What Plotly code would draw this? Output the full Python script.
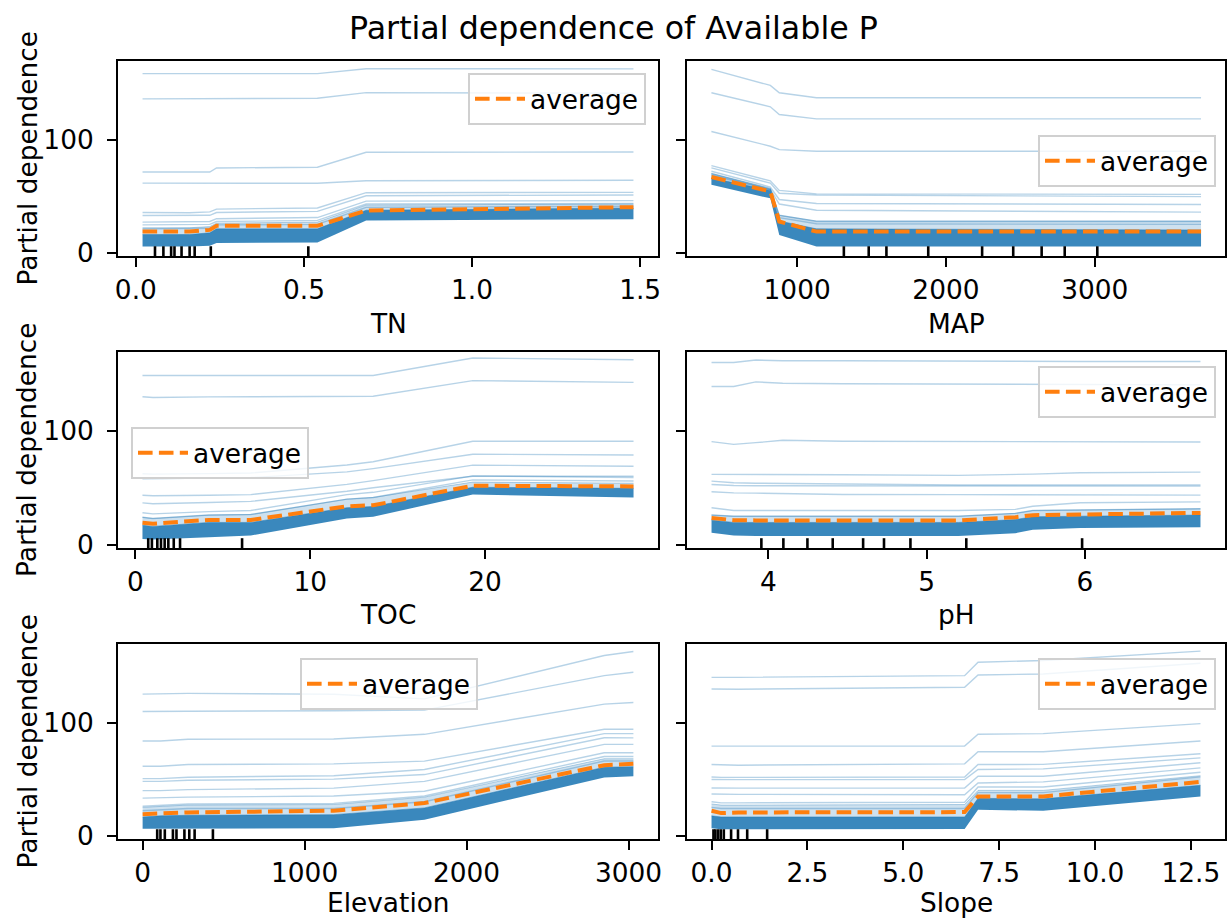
import plotly.graph_objects as go

W, H = 1227, 920
BLUE_LINE = "rgba(31,119,180,0.32)"
BAND = "rgba(31,119,180,0.88)"
HAZE = "rgba(31,119,180,0.22)"
ORANGE = "#ff7f0e"
FONT = "DejaVu Sans"

title_text = "Partial dependence of Available P"
features = ["TN", "MAP", "TOC", "pH", "Elevation", "Slope"]

# ---------------- TN ----------------
tn_grid = [0.02, 0.16, 0.22, 0.24, 0.54, 0.685, 1.48]
tn_ice = [
    [158.3, 158.3, 158.3, 158.3, 158.3, 162.7, 162.5],
    [136.0, 136.0, 136.0, 136.0, 136.5, 141.5, 141.0],
    [71.3, 71.0, 71.3, 74.9, 75.5, 88.8, 89.0],
    [61.5, 61.5, 61.5, 61.3, 61.3, 63.6, 64.0],
    [35.5, 35.3, 36.0, 38.5, 39.5, 53.0, 53.3],
    [32.8, 32.5, 33.0, 35.5, 36.5, 50.3, 51.0],
    [27.0, 27.0, 27.5, 30.0, 31.0, 45.5, 46.0],
    [24.5, 24.5, 25.0, 27.5, 28.5, 43.0, 43.5],
    [21.0, 21.0, 21.5, 24.5, 25.0, 40.0, 41.0],
]
tn_lo = [5.3, 5.3, 6.0, 8.5, 9.0, 28.5, 29.5]
tn_hi = [16.0, 16.0, 17.5, 21.0, 21.0, 37.5, 39.5]
tn_haze = [22.0, 22.0, 23.0, 26.0, 27.0, 42.0, 43.0]
tn_avg = [18.6, 18.6, 20.1, 23.7, 23.7, 37.2, 40.2]
tn_deciles = [0.057, 0.082, 0.105, 0.115, 0.136, 0.16, 0.175, 0.223, 0.513]
tn_ticks = [0.0, 0.5, 1.0, 1.5]
tn_ticktext = ["0.0", "0.5", "1.0", "1.5"]

# ---------------- MAP ----------------
map_grid = [424, 820, 880, 1130, 3714]
map_ice = [
    [162.1, 147.9, 141.4, 137.0, 137.0],
    [141.4, 129.0, 122.2, 118.3, 118.3],
    [107.1, 94.1, 91.1, 89.6, 89.6],
    [77.0, 63.5, 55.0, 52.0, 51.5],
    [75.0, 61.5, 52.5, 51.0, 49.5],
    [72.0, 58.0, 47.0, 43.5, 42.6],
    [70.0, 56.0, 43.0, 37.5, 35.8],
    [69.0, 56.0, 33.0, 27.5, 27.5],
    [68.0, 55.5, 31.0, 25.5, 25.0],
]
map_lo = [60.0, 48.0, 15.5, 5.3, 5.3]
map_hi = [66.0, 55.0, 28.0, 21.0, 20.0]
map_haze = [70.0, 57.0, 33.0, 28.0, 28.0]
map_avg = [66.9, 54.1, 27.5, 18.6, 18.6]
map_deciles = [1314, 1481, 1600, 1881, 2243, 2452, 2643, 2798, 3017]
map_ticks = [1000, 2000, 3000]
map_ticktext = ["1000", "2000", "3000"]

# ---------------- TOC ----------------
toc_grid = [0.4, 1.0, 4.2, 6.6, 12.1, 13.6, 19.3, 28.5]
toc_ice = [
    [148.8, 148.8, 148.8, 148.8, 148.8, 148.8, 164.2, 162.7],
    [130.1, 129.5, 130.0, 130.0, 130.0, 130.5, 144.3, 142.8],
    [62.3, 62.0, 62.5, 63.0, 70.0, 72.9, 91.0, 91.0],
    [58.0, 58.0, 58.5, 59.0, 64.0, 66.9, 79.5, 78.9],
    [43.4, 43.0, 43.4, 44.0, 53.0, 56.3, 69.9, 69.0],
    [36.7, 36.0, 37.0, 38.0, 47.0, 50.0, 60.2, 60.2],
    [28.0, 27.0, 29.0, 30.0, 44.0, 46.0, 60.5, 59.0],
    [24.0, 23.0, 26.0, 26.5, 40.0, 41.5, 57.0, 56.0],
]
toc_lo = [5.0, 4.5, 6.5, 8.0, 23.0, 24.5, 44.0, 41.5]
toc_hi = [17.0, 16.0, 19.5, 19.5, 32.5, 33.5, 50.5, 49.5]
toc_haze = [24.0, 23.0, 26.0, 26.5, 40.0, 41.5, 55.0, 54.0]
toc_avg = [19.3, 18.4, 21.7, 21.7, 33.7, 34.6, 51.8, 51.2]
toc_deciles = [0.73, 0.94, 1.25, 1.46, 1.67, 1.88, 2.19, 2.55, 6.1]
toc_ticks = [0, 10, 20]
toc_ticktext = ["0", "10", "20"]

# ---------------- pH ----------------
ph_grid = [3.64, 3.78, 3.92, 4.09, 4.47, 5.2, 5.56, 5.67, 5.97, 6.73]
ph_ice = [
    [160.3, 160.3, 162.4, 161.8, 161.8, 161.2, 161.2, 161.2, 161.2, 161.2],
    [139.1, 139.1, 143.2, 142.0, 141.5, 141.0, 140.8, 140.7, 140.6, 140.6],
    [90.6, 88.2, 89.7, 91.8, 90.9, 90.5, 90.4, 90.4, 90.3, 90.3],
    [61.8, 61.8, 61.8, 61.8, 61.5, 60.9, 61.3, 62.0, 63.2, 63.8],
    [55.9, 54.4, 54.0, 53.8, 52.9, 52.5, 52.5, 52.5, 52.4, 52.4],
    [52.9, 52.0, 51.8, 51.8, 51.5, 51.5, 51.5, 51.5, 51.5, 51.5],
    [46.5, 45.5, 45.3, 45.0, 44.1, 44.0, 44.0, 44.0, 44.0, 43.5],
    [32.4, 30.0, 30.0, 30.0, 30.0, 30.0, 31.0, 33.8, 36.8, 37.6],
    [26.0, 25.0, 25.0, 25.0, 25.0, 25.0, 27.5, 30.0, 30.5, 31.5],
]
ph_lo = [10.5, 8.0, 7.5, 7.5, 7.5, 7.5, 10.0, 13.0, 14.5, 15.3]
ph_hi = [21.5, 19.5, 19.5, 19.5, 19.5, 19.5, 22.0, 24.5, 25.0, 26.0]
ph_haze = [26.0, 25.0, 25.0, 25.0, 25.0, 25.0, 27.5, 30.0, 30.5, 31.5]
ph_avg = [23.5, 21.5, 21.3, 21.2, 21.2, 21.2, 24.1, 25.9, 26.5, 27.9]
ph_deciles = [3.955, 4.094, 4.246, 4.406, 4.598, 4.73, 4.897, 5.25, 5.982]
ph_ticks = [4, 5, 6]
ph_ticktext = ["4", "5", "6"]

# ---------------- Elevation ----------------
elev_grid = [0, 110, 280, 1180, 1740, 2850, 3030]
elev_ice = [
    [125.2, 125.2, 125.8, 125.0, 121.0, 159.3, 162.9],
    [109.8, 109.8, 110.0, 110.5, 111.0, 141.5, 144.5],
    [83.7, 83.7, 85.2, 85.5, 89.6, 116.3, 117.8],
    [61.4, 61.4, 62.9, 63.5, 65.9, 94.1, 94.1],
    [50.4, 50.4, 51.6, 53.0, 58.5, 90.2, 90.2],
    [48.0, 48.0, 49.0, 50.0, 54.0, 86.6, 86.5],
    [39.8, 39.8, 40.7, 42.0, 48.0, 80.7, 80.7],
    [33.2, 33.5, 34.0, 35.0, 39.2, 73.3, 73.3],
    [26.0, 27.0, 28.0, 28.5, 35.0, 70.0, 70.0],
    [22.0, 23.0, 24.0, 24.0, 30.0, 66.0, 66.0],
]
elev_lo = [6.0, 6.0, 6.5, 6.5, 14.0, 51.5, 52.5]
elev_hi = [16.5, 17.5, 18.0, 18.5, 24.5, 60.5, 61.0]
elev_haze = [25.0, 26.0, 27.0, 27.5, 34.0, 68.0, 68.0]
elev_avg = [19.0, 19.9, 20.5, 22.0, 28.8, 62.3, 63.5]
elev_deciles = [90, 110, 137, 187, 209, 258, 288, 321, 434]
elev_ticks = [0, 1000, 2000, 3000]
elev_ticktext = ["0", "1000", "2000", "3000"]

# ---------------- Slope ----------------
slope_grid = [0.0, 0.25, 0.7, 6.6, 6.95, 8.65, 12.75]
slope_ice = [
    [140.0, 140.0, 140.0, 141.5, 153.4, 154.9, 163.2],
    [129.7, 129.5, 129.5, 131.2, 142.1, 143.0, 152.5],
    [79.2, 79.2, 79.2, 79.2, 89.6, 90.2, 99.1],
    [62.9, 62.5, 62.3, 63.5, 74.2, 74.2, 83.7],
    [51.9, 51.5, 51.5, 51.9, 62.9, 63.0, 72.4],
    [49.6, 49.5, 49.5, 49.6, 58.5, 59.0, 68.8],
    [42.1, 42.0, 42.0, 42.1, 52.5, 52.5, 64.4],
    [36.8, 36.5, 36.5, 36.2, 46.6, 47.5, 59.9],
    [30.0, 29.0, 29.0, 29.5, 43.0, 43.0, 56.0],
    [25.0, 24.0, 24.0, 24.0, 38.0, 38.0, 52.0],
]
slope_lo = [6.5, 5.6, 5.6, 5.9, 22.8, 22.0, 34.7]
slope_hi = [17.5, 16.5, 16.5, 16.5, 33.0, 32.5, 44.5]
slope_haze = [28.0, 27.0, 27.0, 27.5, 40.0, 40.0, 53.0]
slope_avg = [22.0, 19.9, 20.5, 20.8, 34.7, 34.7, 47.5]
slope_deciles = [0.05, 0.1, 0.17, 0.24, 0.32, 0.51, 0.69, 0.93, 1.45]
slope_ticks = [0, 2.5, 5, 7.5, 10, 12.5]
slope_ticktext = ["0.0", "2.5", "5.0", "7.5", "10.0", "12.5"]

y_ticks = [0, 100]
y_ticktext = ["0", "100"]

panels = [
    (tn_grid, tn_ice, tn_lo, tn_hi, tn_haze, tn_avg, tn_deciles, tn_ticks, tn_ticktext, [-0.053, 1.553]),
    (map_grid, map_ice, map_lo, map_hi, map_haze, map_avg, map_deciles, map_ticks, map_ticktext, [260, 3875]),
    (toc_grid, toc_ice, toc_lo, toc_hi, toc_haze, toc_avg, toc_deciles, toc_ticks, toc_ticktext, [-1.0, 29.9]),
    (ph_grid, ph_ice, ph_lo, ph_hi, ph_haze, ph_avg, ph_deciles, ph_ticks, ph_ticktext, [3.485, 6.885]),
    (elev_grid, elev_ice, elev_lo, elev_hi, elev_haze, elev_avg, elev_deciles, elev_ticks, elev_ticktext, [-152, 3182]),
    (slope_grid, slope_ice, slope_lo, slope_hi, slope_haze, slope_avg, slope_deciles, slope_ticks, slope_ticktext, [-0.64, 13.39]),
]

# layout geometry (pixels)
col_px = [(118, 658), (687, 1225)]
row_px = [(61, 256), (352, 548), (644, 839)]
legend_pos = [(646, 73, "right"), (1216, 135, "right"), (131, 427, "left"),
              (1216, 366, "right"), (389, 658, "center"), (1216, 658, "right")]
xlabel_y = [323, 323, 614, 614, 902, 902]

fig = go.Figure()
layout = dict()
shapes = []
annotations = []

for i, (grid, ice, lo, hi, haze, avg, dec, ticks, ticktext, xr) in enumerate(panels):
    r, c = i // 2, i % 2
    n = i + 1
    xa = "x" if n == 1 else f"x{n}"
    ya = "y" if n == 1 else f"y{n}"
    lg = "legend" if n == 1 else f"legend{n}"

    # light haze of many overlapping ICE lines just above the dense band
    fig.add_trace(go.Scatter(x=grid, y=hi, xaxis=xa, yaxis=ya, mode="lines",
                             line=dict(width=0, color=HAZE), showlegend=False, hoverinfo="skip"))
    fig.add_trace(go.Scatter(x=grid, y=haze, xaxis=xa, yaxis=ya, mode="lines",
                             line=dict(width=1, color=BLUE_LINE), fill="tonexty", fillcolor=HAZE,
                             showlegend=False, hoverinfo="skip"))
    # dense band of ICE lines
    fig.add_trace(go.Scatter(x=grid, y=lo, xaxis=xa, yaxis=ya, mode="lines",
                             line=dict(width=0, color=BAND), showlegend=False, hoverinfo="skip"))
    fig.add_trace(go.Scatter(x=grid, y=hi, xaxis=xa, yaxis=ya, mode="lines",
                             line=dict(width=1, color="rgba(31,119,180,0.5)"), fill="tonexty",
                             fillcolor=BAND, showlegend=False, hoverinfo="skip"))
    for curve in ice:
        fig.add_trace(go.Scatter(x=grid, y=curve, xaxis=xa, yaxis=ya, mode="lines",
                                 line=dict(width=1.4, color=BLUE_LINE), showlegend=False,
                                 hoverinfo="skip"))
    fig.add_trace(go.Scatter(x=grid, y=avg, xaxis=xa, yaxis=ya, mode="lines", name="average",
                             line=dict(width=4, color=ORANGE, dash="14.6px,6.3px"),
                             legend=lg, showlegend=True))

    for d in dec:
        shapes.append(dict(type="line", xref=xa, yref=f"{ya} domain", x0=d, x1=d, y0=0, y1=0.05,
                           line=dict(color="black", width=2.6)))

    x0p, x1p = col_px[c]
    y0p, y1p = row_px[r]
    layout["xaxis" if n == 1 else f"xaxis{n}"] = dict(
        domain=[x0p / W, x1p / W], anchor=ya, range=xr, tickmode="array", tickvals=ticks,
        ticktext=ticktext, showgrid=False, zeroline=False, showline=True, mirror=True,
        linecolor="black", linewidth=2, ticks="outside", ticklen=9, tickwidth=2,
        tickcolor="black", tickfont=dict(family=FONT, size=26.4, color="black"),
        ticklabelstandoff=0, automargin=False)
    layout["yaxis" if n == 1 else f"yaxis{n}"] = dict(
        domain=[1 - y1p / H, 1 - y0p / H], anchor=xa, range=[-3, 169.5], tickmode="array",
        tickvals=y_ticks, ticktext=y_ticktext if c == 0 else ["", ""], showticklabels=(c == 0),
        showgrid=False, zeroline=False, showline=True, mirror=True, linecolor="black",
        linewidth=2, ticks="outside", ticklen=9, tickwidth=2, tickcolor="black",
        tickfont=dict(family=FONT, size=26.4, color="black"), ticklabelstandoff=8,
        automargin=False)

    lx, ly, lanchor = legend_pos[i]
    layout[lg] = dict(x=lx / W, y=1 - ly / H, xanchor=lanchor, yanchor="top",
                      xref="paper", yref="paper",
                      bgcolor="rgba(255,255,255,0.8)", bordercolor="#d0d0d0", borderwidth=2,
                      font=dict(family=FONT, size=26.4, color="black"), itemwidth=50)

    annotations.append(dict(text=features[i], x=(x0p + x1p) / 2 / W, y=1 - xlabel_y[i] / H,
                            xref="paper", yref="paper", showarrow=False, xanchor="center",
                            yanchor="middle", font=dict(family=FONT, size=26.4, color="black")))
    if c == 0:
        annotations.append(dict(text="Partial dependence", x=27 / W, y=1 - (y0p + y1p) / 2 / H,
                                xref="paper", yref="paper", showarrow=False, textangle=-90,
                                xanchor="center", yanchor="middle",
                                font=dict(family=FONT, size=26.4, color="black")))

annotations.append(dict(text=title_text, x=0.5, y=1 - 28 / H, xref="paper", yref="paper",
                        showarrow=False, xanchor="center", yanchor="middle",
                        font=dict(family=FONT, size=31.7, color="black")))

fig.update_layout(width=W, height=H, margin=dict(l=0, r=0, t=0, b=0, autoexpand=False),
                  plot_bgcolor="white", paper_bgcolor="white", shapes=shapes,
                  annotations=annotations, **layout)
fig.write_html("out.html")
